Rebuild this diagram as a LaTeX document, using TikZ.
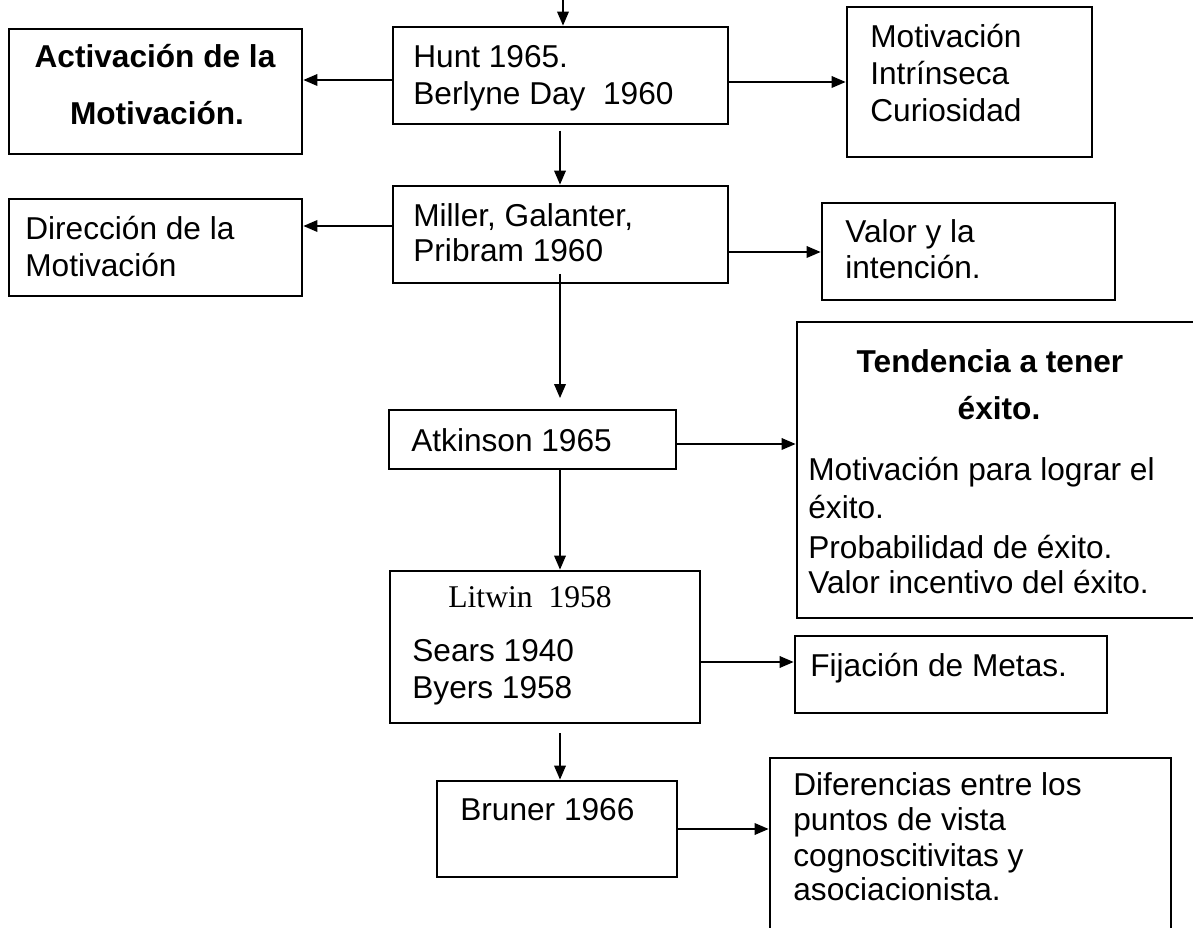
\documentclass[tikz,border=0pt]{standalone}
\usepackage{fontspec}
\setmainfont{Liberation Sans}
\newfontfamily\serifa{Liberation Serif}
\usetikzlibrary{fit, arrows.meta}

\tikzset{
	caja/.style={draw, line width=1.5pt, inner sep=0pt},
	flecha/.style={line width=1.2pt, -{Triangle[length=8pt,width=6.5pt]}},
	linea/.style={anchor=base west, inner sep=0pt, font=\fontsize{18}{21}\selectfont},
	titulo/.style={anchor=base, inner sep=0pt, font=\fontsize{18}{21}\selectfont\bfseries}
}

\begin{document}
\begin{tikzpicture}[x=0.02cm, y=-0.02cm]
	\useasboundingbox (0,0) rectangle (1193,928);
	
	%boxes
	\node[caja, fit={(9,29) (302,154)}]     (activacion) {};
	\node[caja, fit={(393,27) (728,124)}]   (hunt) {};
	\node[caja, fit={(847,7) (1092,157)}]   (intrinseca) {};
	\node[caja, fit={(9,199) (302,296)}]    (direccion) {};
	\node[caja, fit={(393,186) (728,283)}]  (miller) {};
	\node[caja, fit={(822,203) (1115,300)}] (valor) {};
	\node[caja, fit={(389,410) (676,469)}]  (atkinson) {};
	\node[caja, fit={(797,322) (1198,618)}] (tendencia) {};
	\node[caja, fit={(390,571) (700,723)}]  (litwin) {};
	\node[caja, fit={(795,636) (1107,713)}] (fijacion) {};
	\node[caja, fit={(437,781) (677,877)}]  (bruner) {};
	\node[caja, fit={(770,758) (1171,945)}] (diferencias) {};
	
	%texts
	\node[titulo] (act1) at (155,68)  {Activación de la};
	\node[titulo] (act2) at (157,125) {Motivación.};
	%
	\node[linea] (hunt1) at (413,68)  {Hunt 1965.};
	\node[linea] (hunt2) at (413,105) {Berlyne Day~~1960};
	%
	\node[linea] (intr1) at (870,48)  {Motivación};
	\node[linea] (intr2) at (870,85)  {Intrínseca};
	\node[linea] (intr3) at (870,122) {Curiosidad};
	%
	\node[linea] (dir1) at (25,240) {Dirección de la};
	\node[linea] (dir2) at (25,277) {Motivación};
	%
	\node[linea] (mil1) at (413,227) {Miller, Galanter,};
	\node[linea] (mil2) at (413,262) {Pribram 1960};
	%
	\node[linea] (val1) at (845,243) {Valor y la};
	\node[linea] (val2) at (845,279) {intención.};
	%
	\node[linea] (atk1) at (411,452) {Atkinson 1965};
	%
	\node[titulo] (ten1) at (990,373) {Tendencia a tener};
	\node[titulo] (ten2) at (999,420) {éxito.};
	\node[linea]  (ten3) at (808,481) {Motivación para lograr el};
	\node[linea]  (ten4) at (808,519) {éxito.};
	\node[linea]  (ten5) at (808,559) {Probabilidad de éxito.};
	\node[linea]  (ten6) at (808,594) {Valor incentivo del éxito.};
	%
	\node[linea, font=\fontsize{18}{21}\serifa] (lit1) at (448,607) {Litwin~~1958};
	\node[linea] (lit2) at (412,662) {Sears 1940};
	\node[linea] (lit3) at (412,698) {Byers 1958};
	%
	\node[linea] (fij1) at (810,676) {Fijación de Metas.};
	%
	\node[linea] (bru1) at (460,820) {Bruner 1966};
	%
	\node[linea] (dif1) at (793,795) {Diferencias entre los};
	\node[linea] (dif2) at (793,830) {puntos de vista};
	\node[linea] (dif3) at (793,866) {cognoscitivitas y};
	\node[linea] (dif4) at (793,900) {asociacionista.};
	
	%arrows
	\coordinate (inicio) at (563,0);
	\coordinate (eje) at (560,0);
	\draw[flecha] (inicio) -- (inicio |- hunt.north);
	\draw[flecha] (hunt.west |- 0,80) -- (activacion.east |- 0,80);
	\draw[flecha] (hunt.east |- 0,82) -- (intrinseca.west |- 0,82);
	\draw[flecha, shorten <=3pt] (eje |- hunt.south) -- (eje |- miller.north);
	\draw[flecha] (miller.west |- 0,226) -- (direccion.east |- 0,226);
	\draw[flecha] (miller.east |- 0,252) -- (valor.west |- 0,252);
	\draw[flecha, shorten <=-6pt, shorten >=6pt] (eje |- miller.south) -- (eje |- atkinson.north);
	\draw[flecha] (atkinson.east |- 0,444) -- (tendencia.west |- 0,444);
	\draw[flecha] (eje |- atkinson.south) -- (eje |- litwin.north);
	\draw[flecha] (litwin.east |- 0,662) -- (fijacion.west |- 0,662);
	\draw[flecha, shorten <=5pt] (eje |- litwin.south) -- (eje |- bruner.north);
	\draw[flecha] (bruner.east |- 0,829) -- (diferencias.west |- 0,829);
\end{tikzpicture}
\end{document}
